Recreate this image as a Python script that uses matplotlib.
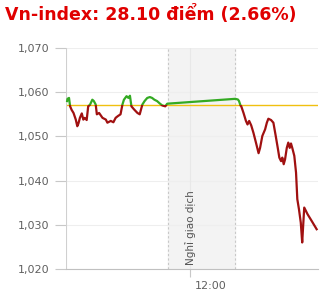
import numpy as np
import matplotlib
matplotlib.use('Agg')
import matplotlib.pyplot as plt
from matplotlib.patches import Rectangle
import matplotlib.transforms as mtransforms

# minutes after 9:00
times = [16.5, 17, 19, 20.5, 22.5, 25, 28, 30, 31.5, 33.5, 36, 38, 40, 42.5,
         44.5, 47, 50, 52, 54.5, 56, 59, 63.5, 68, 70, 74.5, 78, 81, 84, 87.5,
         90, 92, 95.5, 98, 100, 102, 105.5, 110, 113, 116.5, 119.5, 123, 126.5,
         129.5, 132.5, 136, 140, 143, 147, 149.5,
         240, 243.5, 245, 247, 248, 251, 254.2, 256.3, 258.5, 261.2, 264.2,
         267.5, 271, 273, 276, 279.7, 282, 284, 287.6, 290.7, 293.8, 296.5,
         298.6, 300.9, 302.6, 304.4, 306.2, 308.5, 310.5, 312.4, 314.1, 315.8,
         318.5, 320.8, 322.5, 324.7, 327.1, 329, 330, 331.7, 336.1, 341.5, 348.2]
values = [1058.0, 1058.5, 1058.7, 1056.8, 1056.0, 1055.3, 1053.8, 1052.3, 1052.9,
          1054.2, 1055.2, 1053.8, 1054.2, 1053.7, 1056.8, 1057.2, 1058.3, 1058.0,
          1057.2, 1055.0, 1055.3, 1054.2, 1053.8, 1053.1, 1053.5, 1053.2, 1054.2,
          1054.6, 1055.0, 1057.2, 1058.3, 1059.1, 1058.7, 1059.2, 1056.8, 1056.1,
          1055.3, 1055.0, 1057.2, 1058.0, 1058.7, 1058.9, 1058.7, 1058.3, 1058.0,
          1057.4, 1057.0, 1056.8, 1057.4,
          1058.5, 1058.35, 1058.0, 1057.0, 1056.8, 1055.3, 1053.5, 1052.7, 1053.5,
          1052.5, 1050.8, 1048.6, 1046.2, 1047.4, 1050.1, 1051.6, 1053.1, 1054.0,
          1053.7, 1053.1, 1050.1, 1047.4, 1045.2, 1044.4, 1045.2, 1043.7, 1044.8,
          1047.4, 1048.6, 1047.4, 1048.4, 1047.4, 1045.6, 1041.8, 1035.8, 1033.5,
          1030.5, 1026.0, 1029.0, 1033.9, 1032.4, 1030.9, 1029.0]
ref_close = 1057.0
break_start, break_end = 150, 240
yticks = [1020, 1030, 1040, 1050, 1060, 1070]
ytick_labels = ['1,020', '1,030', '1,040', '1,050', '1,060', '1,070']
title = 'Vn-index: 28.10 điểm (2.66%)'

fig = plt.figure(figsize=(3.2, 2.94), dpi=100)
fig.text(5/320, 1 - 14/294, title, color='#e00000', fontsize=12.5,
         fontweight='bold', va='center', ha='left')

ax = fig.add_axes([66/320, 25/294, 252/320, 221/294])
ax.set_xlim(15, 350)
ax.set_ylim(1020, 1070)

# break band
ax.axvspan(break_start, break_end, color='#f3f3f3', zorder=0)
for xb in (break_start, break_end):
    ax.axvline(xb, color='#c8c8c8', lw=0.8, ls=(0, (2, 2)), zorder=1)
ax.text(180, 1020.8, 'Nghỉ giao dịch', rotation=90, ha='center', va='bottom',
        fontsize=7.5, color='#555555')

for y in yticks:
    ax.axhline(y, color='#eeeeee', lw=0.8, zorder=0.5)
ax.axvline(180, color='#e8e8e8', lw=0.8, zorder=0.5)

ax.axhline(ref_close, color='#f0c010', lw=1.0, zorder=2)

# line coloured by threshold
up = Rectangle((0, ref_close), 400, 100, transform=ax.transData)
down = Rectangle((0, ref_close - 100), 400, 100, transform=ax.transData)
l1, = ax.plot(times, values, color='#33aa22', lw=1.6, zorder=3)
l1.set_clip_path(up)
l2, = ax.plot(times, values, color='#a01010', lw=1.6, zorder=3)
l2.set_clip_path(down)

for s in ['top', 'right', 'left']:
    ax.spines[s].set_visible(False)
ax.spines['bottom'].set_color('#c0c0c0')
ax.axvline(15, color='#d0d0d0', lw=0.8)

ax.set_yticks(yticks)
ax.set_yticklabels(ytick_labels)
ax.tick_params(axis='y', length=8, color='#c8c8c8', labelsize=8,
               labelcolor='#606060', pad=4)
ax.set_xticks([180])
ax.set_xticklabels([''])
ax.tick_params(axis='x', length=6, color='#c8c8c8')
ax.text(208, -0.075, '12:00', transform=mtransforms.blended_transform_factory(ax.transData, ax.transAxes),
        ha='center', va='center', fontsize=8, color='#606060')

fig.savefig('out.png', dpi=100)
